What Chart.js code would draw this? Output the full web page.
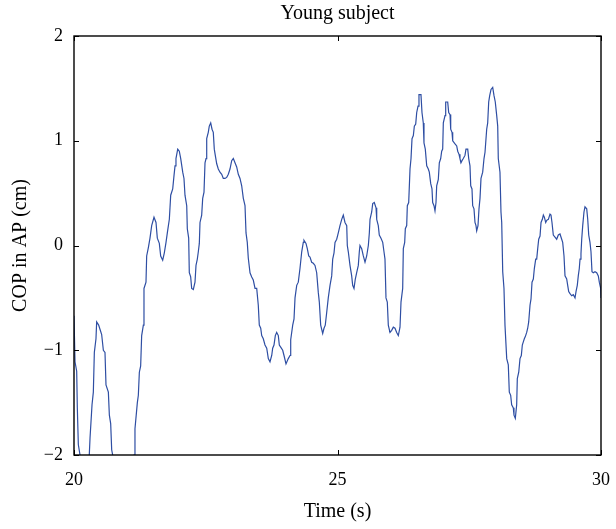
<html>
<head>
<script src="https://cdn.jsdelivr.net/npm/chart.js@4/dist/chart.umd.min.js"></script>
<style>
  body { margin: 0; background: #fff; }
  #wrap { width: 616px; height: 529px; }
</style>
</head>
<body>
<div id="wrap"><canvas id="myChart" width="616" height="529"></canvas></div>
<script>
// Time (s) and COP in AP (cm)
var times = [
  20.000, 20.019, 20.051, 20.063, 20.082, 20.114, 20.150, 20.250, 20.290, 20.304,
  20.342, 20.367, 20.386, 20.417, 20.430, 20.468, 20.493, 20.525, 20.557, 20.588,
  20.607, 20.652, 20.671, 20.696, 20.715, 20.734, 20.770, 21.100, 21.139, 21.157,
  21.202, 21.221, 21.240, 21.265, 21.284, 21.316, 21.328, 21.366, 21.379, 21.411,
  21.442, 21.474, 21.518, 21.556, 21.581, 21.619, 21.645, 21.683, 21.714, 21.746,
  21.771, 21.809, 21.835, 21.873, 21.898, 21.917, 21.935, 21.968, 21.998, 22.025,
  22.063, 22.087, 22.106, 22.139, 22.150, 22.176, 22.188, 22.214, 22.233, 22.264,
  22.296, 22.315, 22.340, 22.359, 22.378, 22.391, 22.423, 22.442, 22.467, 22.486,
  22.505, 22.518, 22.548, 22.567, 22.594, 22.619, 22.643, 22.662, 22.681, 22.708,
  22.738, 22.770, 22.803, 22.833, 22.865, 22.897, 22.928, 22.960, 22.992, 23.023,
  23.055, 23.087, 23.118, 23.150, 23.182, 23.213, 23.245, 23.264, 23.288, 23.307,
  23.340, 23.372, 23.402, 23.435, 23.467, 23.497, 23.516, 23.543, 23.562, 23.592,
  23.624, 23.657, 23.687, 23.719, 23.752, 23.770, 23.795, 23.820, 23.846, 23.877,
  23.896, 23.922, 23.960, 23.985, 24.023, 24.066, 24.099, 24.112, 24.150, 24.175,
  24.194, 24.226, 24.256, 24.288, 24.321, 24.351, 24.364, 24.402, 24.427, 24.454,
  24.478, 24.510, 24.541, 24.573, 24.605, 24.636, 24.655, 24.681, 24.719, 24.744,
  24.768, 24.795, 24.825, 24.858, 24.890, 24.909, 24.934, 24.953, 24.985, 25.015,
  25.047, 25.080, 25.110, 25.142, 25.175, 25.186, 25.205, 25.237, 25.269, 25.288,
  25.313, 25.338, 25.364, 25.395, 25.414, 25.427, 25.459, 25.490, 25.522, 25.554,
  25.585, 25.604, 25.617, 25.649, 25.668, 25.698, 25.731, 25.744, 25.774, 25.793,
  25.825, 25.858, 25.882, 25.901, 25.920, 25.945, 25.964, 25.996, 26.028, 26.059,
  26.091, 26.123, 26.154, 26.186, 26.205, 26.237, 26.249, 26.275, 26.287, 26.313,
  26.325, 26.351, 26.376, 26.395, 26.414, 26.439, 26.458, 26.484, 26.503, 26.528,
  26.546, 26.584, 26.603, 26.628, 26.641, 26.666, 26.693, 26.723, 26.742, 26.769,
  26.793, 26.806, 26.831, 26.850, 26.869, 26.882, 26.913, 26.932, 26.958, 26.977,
  26.996, 27.008, 27.040, 27.053, 27.091, 27.110, 27.135, 27.148, 27.173, 27.186,
  27.230, 27.262, 27.281, 27.306, 27.324, 27.343, 27.362, 27.387, 27.419, 27.438,
  27.471, 27.490, 27.514, 27.528, 27.552, 27.565, 27.590, 27.609, 27.628, 27.641,
  27.666, 27.685, 27.704, 27.723, 27.755, 27.780, 27.799, 27.831, 27.850, 27.869,
  27.888, 27.913, 27.945, 27.970, 27.994, 28.021, 28.040, 28.051, 28.083, 28.102,
  28.116, 28.135, 28.159, 28.178, 28.211, 28.241, 28.260, 28.286, 28.305, 28.336,
  28.349, 28.374, 28.400, 28.412, 28.439, 28.463, 28.488, 28.507, 28.526, 28.545,
  28.564, 28.590, 28.609, 28.628, 28.653, 28.672, 28.691, 28.716, 28.735, 28.761,
  28.780, 28.799, 28.818, 28.843, 28.862, 28.887, 28.906, 28.925, 28.951, 28.970,
  29.001, 29.032, 29.051, 29.070, 29.095, 29.127, 29.159, 29.190, 29.222, 29.254,
  29.273, 29.298, 29.317, 29.349, 29.368, 29.387, 29.412, 29.444, 29.474, 29.507,
  29.526, 29.550, 29.569, 29.588, 29.602, 29.620, 29.634, 29.653, 29.677, 29.696,
  29.729, 29.748, 29.767, 29.791, 29.810, 29.829, 29.854, 29.886, 29.918, 29.949,
  29.968, 29.994, 30.000
];
var copAP = [
  -0.67, -1.11, -1.20, -1.55, -1.90, -2.00, -2.30, -2.30, -2.00, -1.84,
  -1.52, -1.40, -1.02, -0.89, -0.73, -0.76, -0.80, -0.85, -1.00, -1.02,
  -1.33, -1.40, -1.62, -1.70, -1.95, -2.00, -2.30, -2.30, -2.00, -1.75,
  -1.50, -1.43, -1.21, -1.15, -0.86, -0.76, -0.41, -0.35, -0.10, -0.02,
   0.07,  0.19,  0.27,  0.22,  0.07,  0.02, -0.10, -0.14, -0.07,  0.03,
   0.12,  0.25,  0.48,  0.54,  0.67,  0.76,  0.83,  0.92,  0.90,  0.83,
   0.70,  0.64,  0.48,  0.38,  0.16,  0.07, -0.26, -0.30, -0.41, -0.42,
  -0.35, -0.19, -0.13, -0.06,  0.02,  0.22,  0.29,  0.45,  0.51,  0.79,
   0.83,  1.02,  1.08,  1.14,  1.17,  1.11,  1.08,  0.92,  0.86,  0.78,
   0.73,  0.70,  0.68,  0.64,  0.64,  0.65,  0.68,  0.73,  0.81,  0.83,
   0.79,  0.75,  0.68,  0.64,  0.57,  0.45,  0.38,  0.12,  0.03, -0.12,
  -0.26, -0.30, -0.33, -0.41, -0.41, -0.57, -0.76, -0.79, -0.86, -0.89,
  -0.95, -0.98, -1.08, -1.11, -1.05, -0.98, -0.95, -0.86, -0.83, -0.86,
  -0.95, -0.97, -1.00, -1.05, -1.13, -1.08, -1.05, -0.90, -0.76, -0.70,
  -0.50, -0.38, -0.35, -0.22, -0.06,  0.03,  0.05,  0.02, -0.03, -0.10,
  -0.11, -0.16, -0.17, -0.19, -0.26, -0.45, -0.54, -0.76, -0.84, -0.79,
  -0.76, -0.64, -0.50, -0.38, -0.29, -0.13, -0.07,  0.03,  0.06,  0.12,
   0.19,  0.25,  0.29,  0.22,  0.19,  0.00, -0.06, -0.19, -0.29, -0.38,
  -0.41, -0.32, -0.26, -0.19, -0.06,  0.00, -0.03, -0.10, -0.16, -0.10,
   0.00,  0.12,  0.25,  0.32,  0.40,  0.41,  0.36,  0.25,  0.19,  0.10,
   0.07,  0.03, -0.06, -0.13, -0.50, -0.54, -0.76, -0.83, -0.81, -0.78,
  -0.79, -0.83, -0.86, -0.78, -0.54, -0.41, -0.03,  0.03,  0.16,  0.19,
   0.38,  0.41,  0.73,  0.83,  1.02,  1.05,  1.14,  1.16,  1.27,  1.33,
   1.44,  1.44,  1.27,  1.17,  0.98,  0.92,  0.76,  0.73,  0.70,  0.59,
   0.54,  0.41,  0.38,  0.33,  0.41,  0.57,  0.63,  0.79,  0.83,  0.90,
   0.92,  1.17,  1.24,  1.37,  1.37,  1.27,  1.25,  1.11,  1.08,  1.00,
   0.97,  0.95,  0.90,  0.87,  0.83,  0.79,  0.81,  0.83,  0.86,  0.92,
   0.92,  0.83,  0.76,  0.57,  0.54,  0.38,  0.35,  0.22,  0.19,  0.14,
   0.19,  0.35,  0.45,  0.64,  0.70,  0.83,  0.89,  1.11,  1.17,  1.37,
   1.43,  1.49,  1.51,  1.43,  1.37,  1.24,  1.14,  0.83,  0.70,  0.32,
   0.22, -0.25, -0.41, -0.76, -1.08, -1.14, -1.40, -1.43, -1.52, -1.55,
  -1.62, -1.65, -1.52, -1.27, -1.21, -1.08, -1.05, -0.95, -0.92, -0.89,
  -0.87, -0.83, -0.79, -0.73, -0.57, -0.51, -0.35, -0.32, -0.22, -0.13,
  -0.13, -0.03,  0.06,  0.09,  0.22,  0.25,  0.29,  0.27,  0.22,  0.24,
   0.25,  0.30,  0.29,  0.22,  0.10,  0.08,  0.06,  0.10,  0.11,  0.06,
   0.03, -0.10, -0.29, -0.32, -0.38, -0.44, -0.46, -0.48, -0.47, -0.50,
  -0.44, -0.38, -0.29, -0.22, -0.13, -0.08,  0.06,  0.19,  0.32,  0.37,
   0.35,  0.25,  0.10,  0.03, -0.06, -0.25, -0.26, -0.25, -0.26, -0.29,
  -0.35, -0.41, -0.50
];
var xTicks = [20, 25, 30];
var yTicks = [-2, -1, 0, 1, 2];

var points = [];
for (var i = 0; i < times.length; i++) {
  points.push({x: times[i], y: copAP[i]});
}

var serif = "'Liberation Serif', 'DejaVu Serif', serif";

// white page, then a MATLAB style box with ticks pointing in
var boxPlugin = {
  id: 'box',
  beforeDraw: function(chart) {
    var c = chart.ctx;
    c.save();
    c.fillStyle = '#fff';
    c.fillRect(0, 0, chart.width, chart.height);
    c.restore();
  },
  afterDatasetsDraw: function(chart) {
    var c = chart.ctx, a = chart.chartArea;
    var xs = chart.scales.x, ys = chart.scales.y;
    var len = 5;
    c.save();
    c.strokeStyle = '#000';
    c.lineWidth = 1.4;
    c.strokeRect(a.left, a.top, a.right - a.left, a.bottom - a.top);
    c.lineWidth = 1;
    c.beginPath();
    xTicks.forEach(function(v) {
      var px = Math.round(xs.getPixelForValue(v)) + 0.5;
      c.moveTo(px, a.bottom); c.lineTo(px, a.bottom - len);
      c.moveTo(px, a.top); c.lineTo(px, a.top + len);
    });
    yTicks.forEach(function(v) {
      var py = Math.round(ys.getPixelForValue(v)) + 0.5;
      c.moveTo(a.left, py); c.lineTo(a.left + len, py);
      c.moveTo(a.right, py); c.lineTo(a.right - len, py);
    });
    c.stroke();
    c.restore();
  }
};

var ctx = document.getElementById('myChart').getContext('2d');
var myChart = new Chart(ctx, {
  type: 'line',
  data: {
    datasets: [{
      data: points,
      borderColor: '#2e4ea3',
      borderWidth: 1.2,
      pointRadius: 0,
      tension: 0,
      fill: false
    }]
  },
  options: {
    responsive: false,
    animation: false,
    layout: { padding: { left: 0, right: 15, top: 0, bottom: 0 } },
    plugins: {
      legend: { display: false },
      tooltip: { enabled: false },
      title: {
        display: true,
        fullSize: false,   // centre over the plot box, like the original
        text: 'Young subject',
        color: '#000',
        font: { family: serif, size: 20, weight: 'normal' },
        padding: { top: 2, bottom: 10 }
      }
    },
    scales: {
      x: {
        type: 'linear',
        min: 20, max: 30,
        afterFit: function(s) { s.height = 74; s.paddingLeft = 0; s.paddingRight = 0; },
        afterBuildTicks: function(s) { s.ticks = xTicks.map(function(v) { return {value: v}; }); },
        grid: { display: false, drawTicks: false },
        border: { display: false },
        ticks: { color: '#000', padding: 14, maxRotation: 0, font: { family: serif, size: 18 } },
        title: {
          display: true, text: 'Time (s)', color: '#000',
          font: { family: serif, size: 20 },
          padding: { top: 0, bottom: 5 }
        }
      },
      y: {
        min: -2, max: 2,
        afterFit: function(s) { s.width = 74; },
        afterBuildTicks: function(s) { s.ticks = yTicks.map(function(v) { return {value: v}; }); },
        grid: { display: false, drawTicks: false },
        border: { display: false },
        ticks: {
          color: '#000', padding: 11, font: { family: serif, size: 18 },
          callback: function(v) { return String(v).replace('-', '\u2212'); }
        },
        title: {
          display: true, text: 'COP in AP (cm)', color: '#000',
          font: { family: serif, size: 20 },
          padding: { top: 9, bottom: 0 }
        }
      }
    }
  },
  plugins: [boxPlugin]
});
</script>
</body>
</html>
